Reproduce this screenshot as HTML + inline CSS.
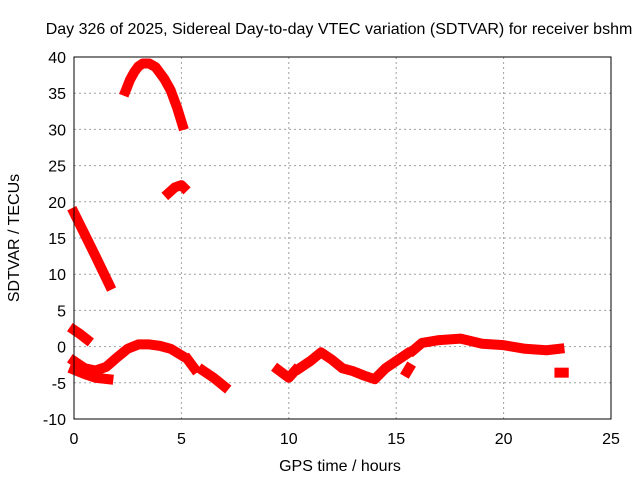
<!DOCTYPE html>
<html><head><meta charset="utf-8"><style>
body{margin:0;background:#fff;}
svg{display:block;font-family:"Liberation Sans",sans-serif;}
</style></head><body>
<svg id="chart" width="640" height="480">
<text x="339" y="34" font-size="16" text-anchor="middle">Day 326 of 2025, Sidereal Day-to-day VTEC variation (SDTVAR) for receiver bshm</text>
<g id="grid"></g><g id="ticks" font-size="16"></g><g id="series"></g>
<rect x="74" y="57" width="537" height="362" fill="none" stroke="#000" stroke-width="1"/>
<text x="340" y="471" font-size="16" text-anchor="middle">GPS time / hours</text>
<text transform="translate(19,238) rotate(-90)" font-size="16" text-anchor="middle">SDTVAR / TECUs</text>
</svg>
<script>
const xTicks=[0,5,10,15,20,25];
const yTicks=[-10,-5,0,5,10,15,20,25,30,35,40];
const segA=[[0,18.5],[0.5,15.5],[1,12.5],[1.65,8.5]];
const segB=[[2.4,35.3],[2.6,36.8],[2.8,37.9],[3.0,38.7],[3.2,39.1],[3.5,39.1],[3.8,38.6],[4.2,37.0],[4.5,35.4],[4.8,33],[5.05,30.6]];
const segC=[[4.4,21.2],[4.7,22],[5.0,22.3],[5.1,22]];
const segD=[[0,2.3],[0.3,1.7],[0.6,1.0]];
const segE=[[0,-2],[0.5,-3],[1,-3.3],[1.5,-2.8],[2,-1.5],[2.5,-0.3],[3,0.3],[3.5,0.3],[4,0.1],[4.5,-0.3],[5,-1.2]];
const segE2=[[0,-3.2],[0.5,-3.8],[1,-4.3],[1.6,-4.5]];
const segF=[[5.3,-1.8],[5.6,-3]];
const segG=[[6,-3.3],[6.5,-4.3],[7,-5.5]];
const segH=[[9.5,-3.2],[10,-4.3],[10.3,-3.3]];
const segI=[[10.5,-3],[11,-2],[11.5,-0.8],[12,-1.8],[12.5,-3],[13,-3.4],[13.5,-4],[14,-4.5],[14.5,-3],[15,-2],[15.5,-1]];
const segJ=[[15.5,-3.5],[15.6,-3.0]];
const segK=[[15.8,-0.5],[16.2,0.5],[17,0.9],[18,1.1],[19,0.4],[20,0.2],[21,-0.3],[22,-0.5],[22.6,-0.3]];
const segL=[[22.6,-3.6],[22.8,-3.6]];
const allSegs=[segA,segB,segC,segD,segE,segE2,segF,segG,segH,segI,segJ,segK,segL];
const X=v=>74+v*537/25, Y=v=>419-(v+10)*362/50;
const ns="http://www.w3.org/2000/svg";
const grid=document.getElementById('grid'),ticks=document.getElementById('ticks'),ser=document.getElementById('series');
xTicks.forEach(t=>{
 if(t>0&&t<25){const l=document.createElementNS(ns,'line');
 
 
 l.setAttribute('x1',X(t));l.setAttribute('x2',X(t));l.setAttribute('y1',57);l.setAttribute('y2',419);
 l.setAttribute('stroke','#a0a0a0');l.setAttribute('stroke-dasharray','2,3');grid.appendChild(l);}
 const tx=document.createElementNS(ns,'text');
 
 
 tx.setAttribute('x',X(t));tx.setAttribute('y',444);tx.setAttribute('text-anchor','middle');tx.textContent=t;ticks.appendChild(tx);
});
yTicks.forEach(t=>{
 if(t>-10&&t<40){const l=document.createElementNS(ns,'line');
 
 
 l.setAttribute('x1',74);l.setAttribute('x2',611);l.setAttribute('y1',Y(t));l.setAttribute('y2',Y(t));
 l.setAttribute('stroke','#a0a0a0');l.setAttribute('stroke-dasharray','2,3');grid.appendChild(l);}
 const tx=document.createElementNS(ns,'text');
 
 
 tx.setAttribute('x',66);tx.setAttribute('y',Y(t)+6);tx.setAttribute('text-anchor','end');tx.textContent=t;ticks.appendChild(tx);
});
allSegs.forEach(seg=>{
 const p=document.createElementNS(ns,'polyline');
 
 
 p.setAttribute('points',seg.map(d=>X(d[0])+','+Y(d[1])).join(' '));
 p.setAttribute('fill','none');p.setAttribute('stroke','#f00');p.setAttribute('stroke-width','10');
 p.setAttribute('stroke-linecap','square');p.setAttribute('stroke-linejoin','round');
 ser.appendChild(p);
});
</script>
</body></html>
